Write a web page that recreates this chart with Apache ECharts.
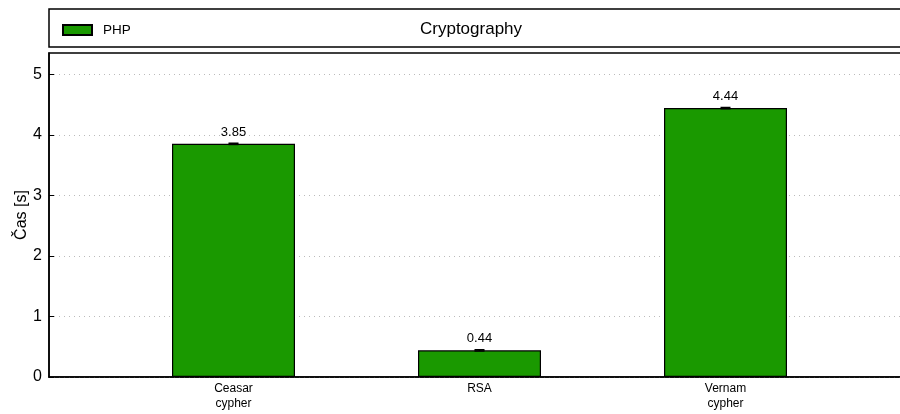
<!DOCTYPE html>
<html><head><meta charset="utf-8">
<script src="https://cdn.jsdelivr.net/npm/echarts@6/dist/echarts.min.js"></script>
<style>html,body{margin:0;padding:0;background:#fff}#c{width:900px;height:414px}</style>
</head><body><div id="c"></div>
<script>
const categories = ['Ceasar\ncypher', 'RSA', 'Vernam\ncypher'];
const values = [3.85, 0.44, 4.44];
const errors = [0.01, 0.01, 0.01];
const seriesName = 'PHP';
const titleText = 'Cryptography';
const yTicks = [0, 1, 2, 3, 4, 5];

const font = 'Liberation Sans, Arial, sans-serif';
const chart = echarts.init(document.getElementById('c'));
const barData = values.map((v, i) => [i, v]);
const errData = values.map((v, i) => [i, v - errors[i], v + errors[i]]);

chart.setOption({
  animation: false,
  textStyle: { fontFamily: font },
  title: {
    text: titleText, left: 415, top: 16,
    textStyle: { fontSize: 17, fontWeight: 'normal', color: '#000', fontFamily: font }
  },
  legend: {
    data: [seriesName], left: 57, top: 18, itemWidth: 29, itemHeight: 10, icon: 'rect',
    textStyle: { fontSize: 13.5, color: '#000', fontFamily: font, padding: [0, 0, 0, 6] }
  },
  graphic: [{
    type: 'rect', shape: { x: 49, y: 9, width: 880, height: 38 },
    style: { fill: 'none', stroke: '#000', lineWidth: 1.5 }, z: -1
  }],
  grid: {
    left: 49, width: 861, top: 53, bottom: 37, show: true,
    outerBoundsMode: 'none', containLabel: false,
    borderColor: '#000', borderWidth: 1.5, backgroundColor: 'transparent'
  },
  xAxis: {
    type: 'value', min: -0.75, max: 2.75,
    axisLine: { show: true, onZero: false, lineStyle: { color: '#000', width: 1.5 } },
    axisTick: { show: false },
    splitLine: { show: false },
    axisLabel: {
      customValues: categories.map((c, i) => i),
      formatter: v => categories[Math.round(v)] || '',
      fontSize: 12, color: '#000', margin: 4, lineHeight: 15, fontFamily: font
    }
  },
  yAxis: {
    type: 'value', min: 0, max: 5.35, interval: 1,
    name: 'Čas [s]', nameLocation: 'middle', nameGap: 19, nameMoveOverlap: false,
    nameTextStyle: { fontSize: 16, color: '#000', fontFamily: font },
    axisLine: { show: true, onZero: false, lineStyle: { color: '#000', width: 1.5 } },
    axisTick: { show: true, inside: true, length: 5, lineStyle: { color: '#000' },
      customValues: yTicks },
    axisLabel: { customValues: yTicks, fontSize: 16, color: '#000', margin: 7, fontFamily: font },
    splitLine: { show: true, lineStyle: { color: '#bbb', type: [1, 4], width: 1 } }
  },
  series: [{
    name: seriesName, type: 'bar', data: barData, barWidth: 123,
    itemStyle: { color: '#1a9900', borderColor: '#000', borderWidth: 1.2 },
    label: { show: true, position: 'top', distance: 5, fontSize: 13, color: '#000',
      fontFamily: font, formatter: p => p.value[1].toFixed(2) }
  }, {
    name: 'err', type: 'custom', data: errData, z: 5,
    renderItem: (params, api) => {
      const x = api.value(0);
      const lo = api.coord([x, api.value(1)]);
      const hi = api.coord([x, api.value(2)]);
      const hw = 5;
      const st = { stroke: '#000', lineWidth: 1.5 };
      return { type: 'group', children: [
        { type: 'line', shape: { x1: lo[0], y1: lo[1], x2: hi[0], y2: hi[1] }, style: st },
        { type: 'line', shape: { x1: lo[0] - hw, y1: lo[1], x2: lo[0] + hw, y2: lo[1] }, style: st },
        { type: 'line', shape: { x1: hi[0] - hw, y1: hi[1], x2: hi[0] + hw, y2: hi[1] }, style: st }
      ]};
    }
  }]
});
</script></body></html>
